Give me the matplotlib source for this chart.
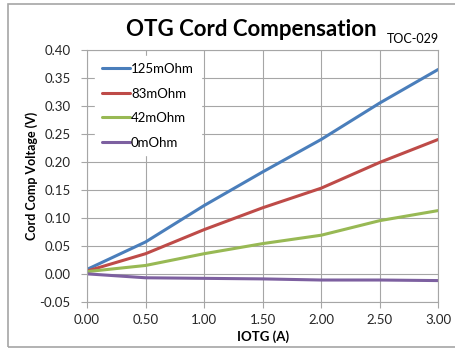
import matplotlib.pyplot as plt
from matplotlib.patches import Rectangle

plt.rcParams['font.family'] = ['Lato', 'DejaVu Sans']

# IOTG (A)
iotg = [0.0, 0.5, 1.0, 1.5, 2.0, 2.5, 3.0]

# cord comp voltage (V) for each cable resistance
v_125 = [0.008, 0.057, 0.122, 0.182, 0.240, 0.305, 0.365]
v_83 = [0.005, 0.036, 0.079, 0.118, 0.153, 0.199, 0.240]
v_42 = [0.004, 0.015, 0.036, 0.054, 0.069, 0.095, 0.113]
v_0 = [0.000, -0.007, -0.008, -0.009, -0.011, -0.011, -0.012]

series = [
    ('125mOhm', v_125, '#4A7EBB'),
    ('83mOhm', v_83, '#BE4B48'),
    ('42mOhm', v_42, '#98B954'),
    ('0mOhm', v_0, '#7D60A0'),
]

fig = plt.figure(figsize=(4.56, 3.51), dpi=100)
ax = fig.add_axes([0.191, 0.140, 0.770, 0.718])

for name, vals, col in series:
    ax.plot(iotg, vals, color=col, lw=2.2, label=name, solid_capstyle='round')

ax.set_xlim(0, 3)
ax.set_ylim(-0.05, 0.40)
ax.set_xticks([0, 0.5, 1, 1.5, 2, 2.5, 3])
ax.set_xticklabels(['%.2f' % t for t in [0, 0.5, 1, 1.5, 2, 2.5, 3]])
ax.set_yticks([-0.05 + 0.05 * i for i in range(10)])
ax.set_yticklabels(['%.2f' % (-0.05 + 0.05 * i) for i in range(10)])
ax.grid(True, color='#A6A6A6', lw=0.8)
ax.set_axisbelow(True)
for s in ax.spines.values():
    s.set_color('#A6A6A6')
    s.set_linewidth(0.8)
ax.tick_params(axis='both', colors='#A6A6A6', labelcolor='#262626', labelsize=9.5, length=4, width=0.8)
ax.tick_params(axis='y', pad=8)
ax.tick_params(axis='x', pad=5)

ax.set_xlabel('IOTG (A)', fontsize=9.5, fontweight='bold', labelpad=3)
ax.set_ylabel('Cord Comp Voltage (V)', fontsize=9, fontweight='bold', labelpad=1)

leg = ax.legend(loc='upper left', bbox_to_anchor=(0.005, 1.0), frameon=True,
                fontsize=9.5, handlelength=2.1, handletextpad=0.1,
                labelspacing=0.95, borderpad=0.5, fancybox=False)
leg.get_frame().set_facecolor('white')
leg.get_frame().set_edgecolor('white')
leg.get_frame().set_alpha(1)

fig.text(0.552, 0.915, 'OTG Cord Compensation', ha='center', va='center',
         fontsize=16, fontweight='bold')
fig.text(0.962, 0.888, 'TOC-029', ha='right', va='center', fontsize=9)

fig.patches.append(Rectangle((8 / 456, 4 / 351), 1.2, 343 / 351,
                             transform=fig.transFigure, fill=False,
                             edgecolor='#A6A6A6', lw=1.2))

fig.savefig('out.png', dpi=100)
